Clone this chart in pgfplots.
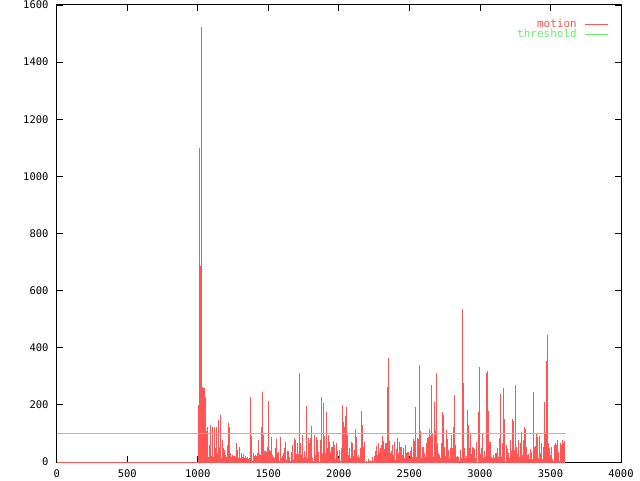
\documentclass[border=0pt]{standalone}
\usepackage{pgfplots}
\usepackage{pgfplotstable}
\pgfplotsset{compat=1.18}
\usepackage{fontspec}
\setmainfont{DejaVu Sans Mono}
\definecolor{mred}{RGB}{255,85,85}
\definecolor{mgreen}{RGB}{102,238,102}
\pgfplotstableread[row sep=\\]{
y\\
200\\1100\\686\\1524\\264\\258\\258\\229\\110\\124\\19\\60\\130\\20\\124\\19\\124\\48\\124\\30\\147\\54\\165\\13\\77\\48\\42\\24\\19\\60\\135\\124\\30\\19\\24\\21\\22\\19\\68\\42\\13\\54\\13\\33\\19\\28\\13\\21\\13\\19\\9\\15\\
229\\91\\5\\30\\21\\23\\21\\33\\77\\28\\23\\124\\246\\94\\38\\38\\36\\51\\215\\42\\40\\89\\24\\16\\15\\48\\82\\30\\36\\4\\89\\13\\21\\30\\48\\71\\7\\40\\40\\19\\5\\36\\60\\7\\83\\77\\28\\65\\28\\313\\65\\24\\94\\13\\40\\
19\\196\\15\\83\\65\\83\\126\\13\\5\\94\\24\\86\\77\\36\\1\\77\\229\\28\\208\\91\\33\\176\\48\\94\\71\\36\\54\\51\\75\\60\\9\\65\\40\\15\\42\\5\\48\\200\\141\\124\\161\\194\\94\\24\\48\\13\\71\\65\\21\\42\\116\\89\\16\\24\\13\\
48\\180\\130\\51\\71\\1\\4\\1\\9\\4\\5\\4\\16\\4\\21\\40\\57\\24\\65\\36\\48\\60\\91\\75\\45\\65\\65\\261\\365\\75\\33\\40\\60\\24\\71\\7\\45\\83\\30\\71\\54\\51\\24\\48\\13\\60\\30\\36\\36\\13\\40\\51\\19\\79\\75\\
191\\19\\83\\79\\339\\110\\13\\51\\51\\30\\16\\65\\83\\89\\114\\91\\269\\98\\16\\211\\110\\313\\68\\33\\24\\13\\65\\176\\165\\54\\21\\112\\79\\42\\13\\48\\94\\48\\124\\235\\60\\16\\21\\16\\5\\42\\13\\535\\275\\48\\13\\21\\182\\130\\48\\
100\\28\\54\\48\\45\\13\\71\\1\\176\\334\\28\\48\\100\\13\\40\\19\\313\\320\\180\\71\\71\\16\\13\\24\\13\\30\\33\\48\\19\\83\\238\\16\\68\\258\\149\\5\\60\\45\\33\\13\\77\\40\\149\\145\\42\\269\\51\\28\\77\\19\\65\\106\\24\\77\\124\\
114\\54\\24\\28\\9\\45\\36\\9\\246\\51\\56\\98\\89\\13\\91\\30\\65\\9\\54\\211\\100\\355\\445\\65\\48\\24\\54\\9\\5\\60\\65\\60\\77\\36\\5\\65\\60\\77\\68\\75\\
}\motion
\begin{document}
\begin{tikzpicture}
\path[use as bounding box] (-56.7pt,-18pt) rectangle (583.3pt,462pt);
\begin{axis}[
 at={(0,0)}, anchor=south west, scale only axis,
 width=564.3pt, height=457pt,
 xmin=0, xmax=4000, ymin=0, ymax=1600,
 xtick={0,500,...,4000}, ytick={0,200,...,1600},
 tick align=inside, major tick length=6pt,
 tick style={black, line width=0.8pt},
 axis line style={black, line width=1pt},
 /pgf/number format/assume math mode=true,
 /pgf/number format/1000 sep={},
 tick label style={font=\fontsize{10.5}{12}\selectfont, inner sep=0pt},
 xticklabel style={yshift=-8pt},
 yticklabel style={xshift=-8pt},
 legend style={draw=none, fill=none, at={(axis description cs:1,1)}, anchor=north east, xshift=-9pt, yshift=-12pt, font=\fontsize{11}{12}\selectfont, nodes={inner sep=0pt, text height=8pt, text depth=2.5pt}, row sep=0pt},
 legend cell align=right,
 legend plot pos=right,
]
\addplot[mred, ycomb, line width=1.05pt, mark=none, legend image code/.code={\path (0pt,0pt); \draw[mred, line width=1pt] (8pt,0pt) -- (31pt,0pt);}] table[x expr=1001.8+7.09*\coordindex, y=y]{\motion};
\addlegendentry{\textcolor{mred}{motion}}
\addplot[mgreen, line width=1pt, mark=none, legend image code/.code={\path (0pt,0pt); \draw[mgreen, line width=1pt] (8pt,0pt) -- (31pt,0pt);}] coordinates {(0,100) (3610,100)};
\addlegendentry{\textcolor{mgreen}{threshold}}
\addplot[mred, line width=1pt, mark=none, forget plot] coordinates {(0,0) (3600,0)};
\end{axis}
\end{tikzpicture}
\end{document}
